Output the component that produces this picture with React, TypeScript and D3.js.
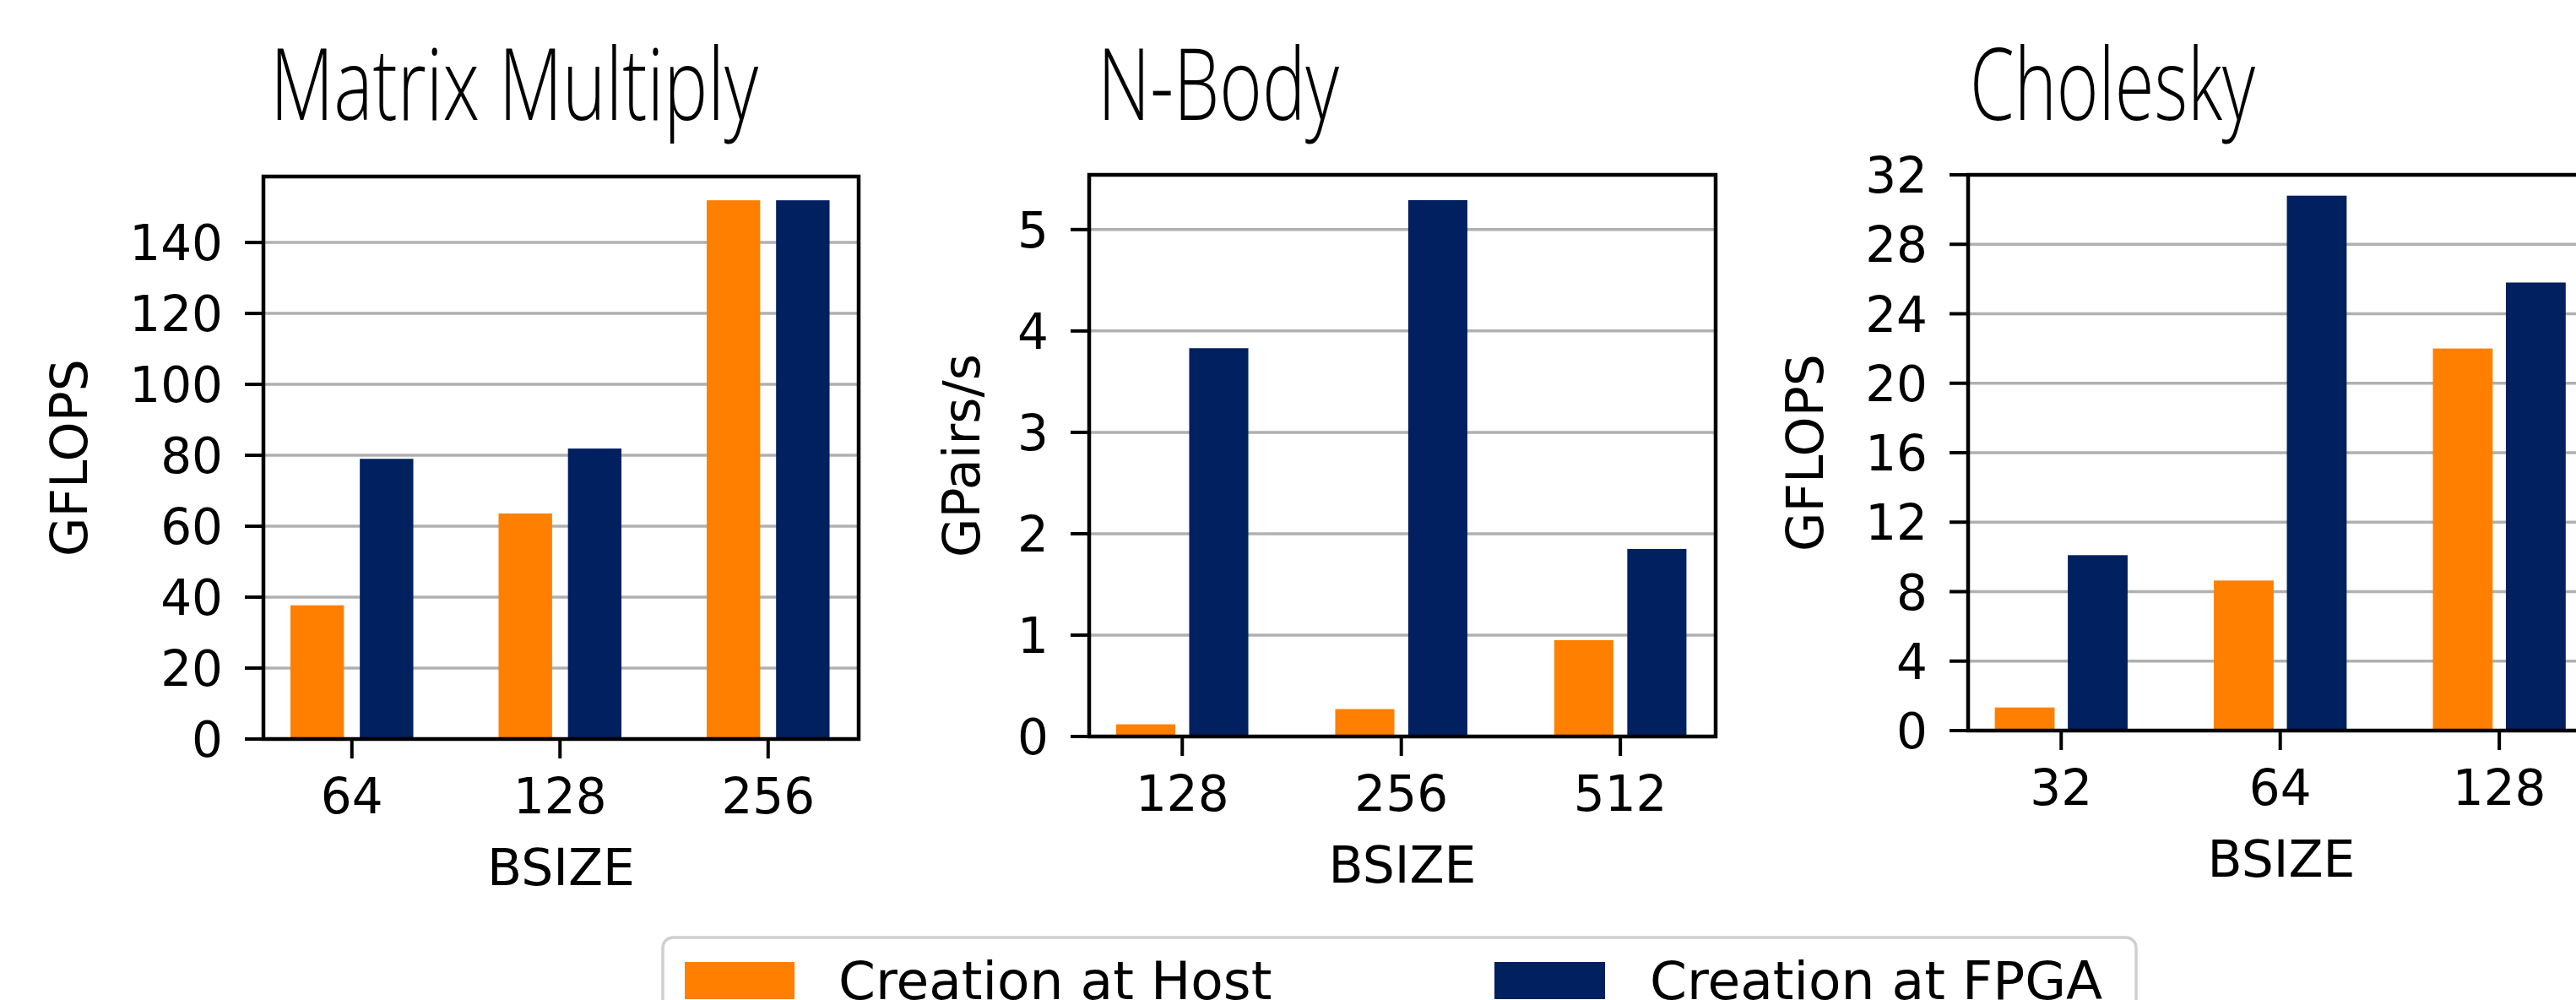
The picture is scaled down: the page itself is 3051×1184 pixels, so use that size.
import React from 'react';
import * as d3 from 'd3';

// ---------- data ----------
const seriesNames = ['Creation at Host', 'Creation at FPGA'];

const mmTitle = 'Matrix Multiply';
const mmCategories = ['64', '128', '256'];
const mmHost = [37.7, 63.6, 151.9];
const mmFpga = [79.0, 81.9, 151.9];
const mmTicks = [0, 20, 40, 60, 80, 100, 120, 140];
const mmYLabel = 'GFLOPS';

const nbTitle = 'N-Body';
const nbCategories = ['128', '256', '512'];
const nbHost = [0.12, 0.27, 0.95];
const nbFpga = [3.83, 5.29, 1.85];
const nbTicks = [0, 1, 2, 3, 4, 5];
const nbYLabel = 'GPairs/s';

const chTitle = 'Cholesky';
const chCategories = ['32', '64', '128'];
const chHost = [1.33, 8.64, 22.0];
const chFpga = [10.1, 30.8, 25.8];
const chTicks = [0, 4, 8, 12, 16, 20, 24, 28, 32];
const chYLabel = 'GFLOPS';

const xLabel = 'BSIZE';

// ---------- style ----------
const ORANGE = '#ff7f00';
const NAVY = '#002060';
const GRID = '#b0b0b0';
const TICK_FONT = 58;
const LABEL_FONT = 60;
const LEGEND_FONT = 63;
const SANS = '"DejaVu Sans", sans-serif';
const TITLE_FONT = '"Open Sans", "Noto Sans", sans-serif';

type PanelProps = {
  title: string;
  categories: string[];
  host: number[];
  fpga: number[];
  ticks: number[];
  yLabel: string;
  ymax: number;
  left: number;
  right: number;
  top: number;
  bottom: number;
  titleX: number;
  titleLen: number;
  yLabelX: number;
  barFrac: number;
};

function Panel(p: PanelProps) {
  const x = d3.scaleLinear().domain([-0.425, 2.435]).range([p.left, p.right]);
  const y = d3.scaleLinear().domain([0, p.ymax]).range([p.bottom, p.top]);
  const unit = x(1) - x(0);
  const bw = unit * p.barFrac;
  const off = 1 / 6;
  const cy = (p.top + p.bottom) / 2;
  const cx = (p.left + p.right) / 2;
  return (
    <g>
      <text
        x={p.titleX}
        y={142}
        fontFamily={TITLE_FONT}
        fontWeight={300}
        fontSize={118}
        textLength={p.titleLen}
        lengthAdjust="spacingAndGlyphs"
        fill="#000"
      >
        {p.title}
      </text>
      {/* grid */}
      {p.ticks.map((t) => (
        <line key={'g' + t} x1={p.left} x2={p.right} y1={y(t)} y2={y(t)} stroke={GRID} strokeWidth={3.5} />
      ))}
      {/* bars */}
      {p.categories.map((c, i) => (
        <g key={'b' + c}>
          <rect x={x(i - off) - bw / 2} y={y(p.host[i])} width={bw} height={y(0) - y(p.host[i])} fill={ORANGE} />
          <rect x={x(i + off) - bw / 2} y={y(p.fpga[i])} width={bw} height={y(0) - y(p.fpga[i])} fill={NAVY} />
        </g>
      ))}
      {/* spines */}
      <rect x={p.left} y={p.top} width={p.right - p.left} height={p.bottom - p.top} fill="none" stroke="#000" strokeWidth={4.5} />
      {/* y ticks */}
      {p.ticks.map((t) => (
        <g key={'t' + t}>
          <line x1={p.left - 22} x2={p.left} y1={y(t)} y2={y(t)} stroke="#000" strokeWidth={4} />
          <text x={p.left - 48} y={y(t) + 21} textAnchor="end" fontFamily={SANS} fontSize={TICK_FONT} fill="#000">
            {t}
          </text>
        </g>
      ))}
      {/* x ticks */}
      {p.categories.map((c, i) => (
        <g key={'x' + c}>
          <line x1={x(i)} x2={x(i)} y1={p.bottom} y2={p.bottom + 23} stroke="#000" strokeWidth={4} />
          <text x={x(i)} y={p.bottom + 88} textAnchor="middle" fontFamily={SANS} fontSize={TICK_FONT} fill="#000">
            {c}
          </text>
        </g>
      ))}
      <text x={cx} y={p.bottom + 173} textAnchor="middle" fontFamily={SANS} fontSize={LABEL_FONT} fill="#000">
        {xLabel}
      </text>
      <text
        transform={`translate(${p.yLabelX},${cy}) rotate(-90)`}
        textAnchor="middle"
        fontFamily={SANS}
        fontSize={LABEL_FONT}
        fill="#000"
      >
        {p.yLabel}
      </text>
    </g>
  );
}

export default function App() {
  return (
    <div style={{ position: 'absolute', left: 0, top: 0, width: 3051, height: 1184, overflow: 'hidden', background: '#fff' }}>
      <svg width={3051} height={1184} viewBox="0 0 3051 1184" style={{ display: 'block', background: '#fff' }}>
        <rect x={0} y={0} width={3051} height={1184} fill="#fff" />
        <Panel
          title={mmTitle}
          categories={mmCategories}
          host={mmHost}
          fpga={mmFpga}
          ticks={mmTicks}
          yLabel={mmYLabel}
          ymax={158.6}
          left={312}
          right={1017}
          top={209}
          bottom={875}
          titleX={320}
          titleLen={578}
          yLabelX={103}
          barFrac={0.257}
        />
        <Panel
          title={nbTitle}
          categories={nbCategories}
          host={nbHost}
          fpga={nbFpga}
          ticks={nbTicks}
          yLabel={nbYLabel}
          ymax={5.54}
          left={1290}
          right={2032}
          top={207}
          bottom={872}
          titleX={1300}
          titleLen={286}
          yLabelX={1160}
          barFrac={0.27}
        />
        <Panel
          title={chTitle}
          categories={chCategories}
          host={chHost}
          fpga={chFpga}
          ticks={chTicks}
          yLabel={chYLabel}
          ymax={32}
          left={2331}
          right={3073}
          top={207}
          bottom={865}
          titleX={2333}
          titleLen={338}
          yLabelX={2159}
          barFrac={0.273}
        />
        {/* legend */}
        <rect x={785} y={1110} width={1745} height={160} rx={12} ry={12} fill="#fff" stroke="#d0d0d0" strokeWidth={3.5} />
        <rect x={811} y={1139} width={130} height={44} fill={ORANGE} />
        <text x={993} y={1183} fontFamily={SANS} fontSize={LEGEND_FONT} fill="#000">
          {seriesNames[0]}
        </text>
        <rect x={1770} y={1139} width={131} height={44} fill={NAVY} />
        <text x={1954} y={1183} fontFamily={SANS} fontSize={LEGEND_FONT} fill="#000">
          {seriesNames[1]}
        </text>
      </svg>
    </div>
  );
}
